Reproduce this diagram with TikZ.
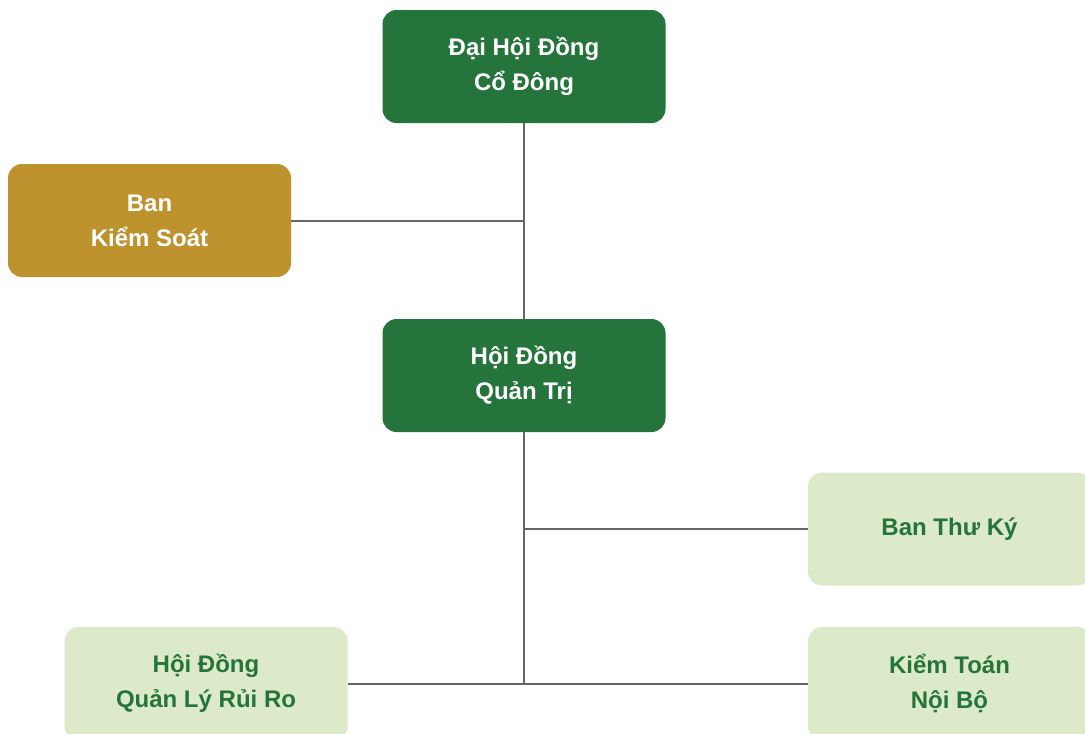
\documentclass[tikz,border=0pt]{standalone}
\usepackage{fontspec}
\setmainfont{Liberation Sans}
\usepackage{tikz}

\definecolor{darkgreen}{HTML}{25743B}
\definecolor{gold}{HTML}{BE932E}
\definecolor{palegreen}{HTML}{DCEAC9}
\definecolor{linegray}{HTML}{666666}

\begin{document}
\begin{tikzpicture}[x=1pt, y=-1pt,
    box/.style={rounded corners=14pt, minimum width=283pt, minimum height=113pt,
      align=center, font=\bfseries\fontsize{24}{35}\selectfont, inner sep=0pt},
    mainbox/.style={box, fill=darkgreen, text=white},
    goldbox/.style={box, fill=gold, text=white},
    subbox/.style={box, fill=palegreen, text=darkgreen},
    link/.style={draw=linegray, line width=2pt}]
    \useasboundingbox (0,0) rectangle (1085,734);
    \clip (0,0) rectangle (1085,734);

    % Boxes
    \node[mainbox] (dhcd) at (524, 66.5) {Đại Hội Đồng\\Cổ Đông};
    \node[goldbox] (bks) at (149.5, 220.5) {Ban\\Kiểm Soát};
    \node[mainbox] (hdqt) at (524, 375.5) {Hội Đồng\\Quản Trị};
    \node[subbox] (btk) at (949.5, 529) {Ban Thư Ký};
    \node[subbox] (qlrr) at (206, 683.5) {Hội Đồng\\Quản Lý Rủi Ro};
    \node[subbox] (ktnb) at (949.5, 683.5) {Kiểm Toán\\Nội Bộ};

    % Connectors
    \draw[link] (dhcd) -- (hdqt);
    \draw[link] (bks.east) -- (bks.east -| dhcd.south);
    \draw[link] (hdqt.south) -- (hdqt.south |- qlrr.east);
    \draw[link] (btk.west) -- (btk.west -| hdqt.south);
    \draw[link] (qlrr.east) -- (ktnb.west);
  \end{tikzpicture}
\end{document}
